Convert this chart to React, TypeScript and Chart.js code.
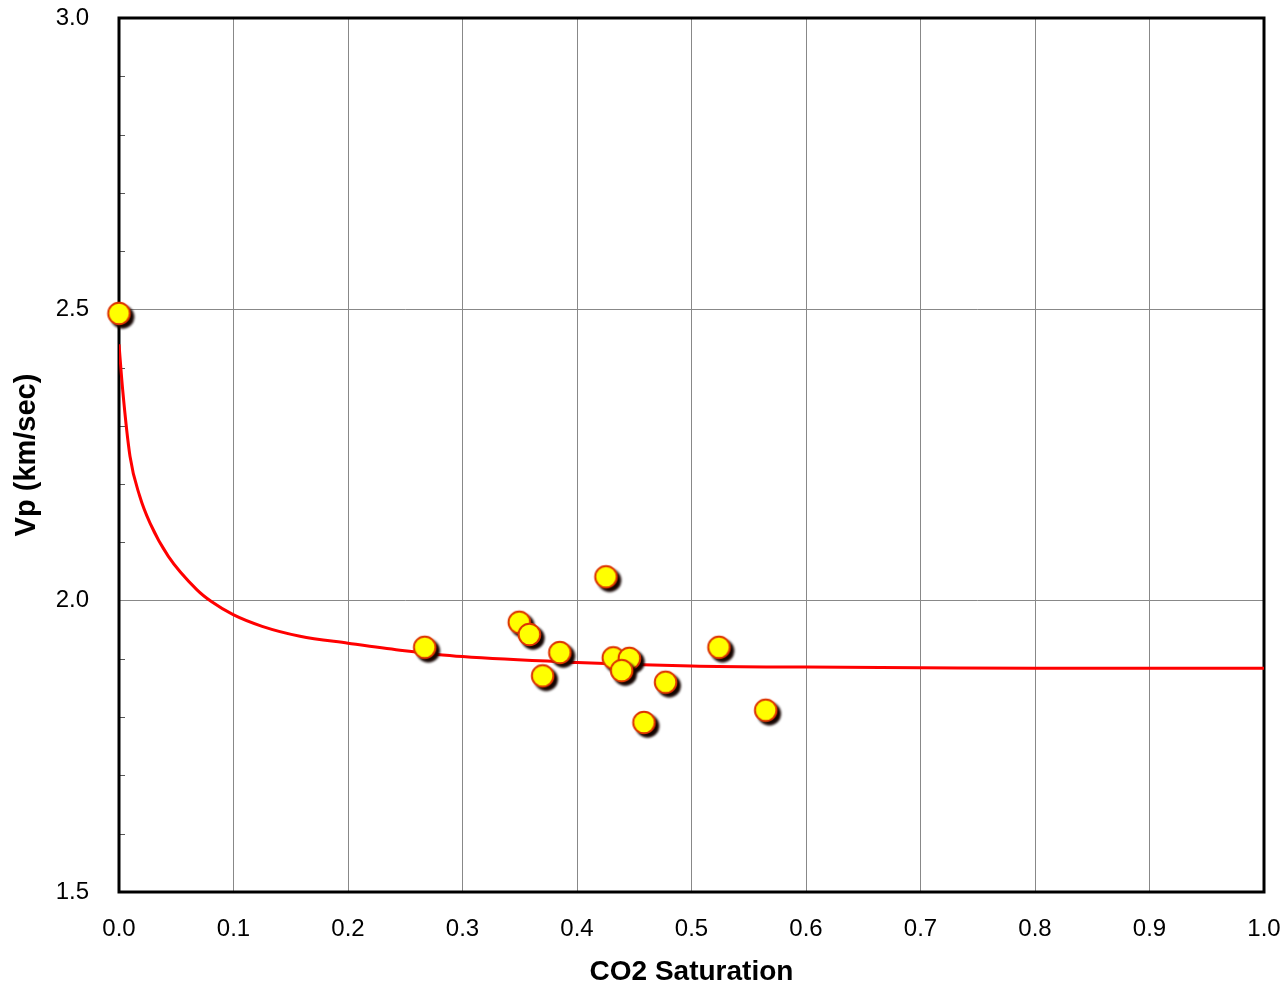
import React, { useEffect, useRef } from "react";
import { Chart, registerables } from "chart.js";

Chart.register(...registerables);

// Measured samples
const SATURATION = [0.0, 0.267, 0.3496, 0.3584, 0.385, 0.37, 0.4253, 0.4317, 0.4457, 0.439, 0.4774, 0.4585, 0.524, 0.5648];
const VP = [2.493, 1.92, 1.963, 1.942, 1.911, 1.871, 2.041, 1.902, 1.901, 1.88, 1.86, 1.791, 1.92, 1.812];

// Model curve
const CURVE_SAT = [0.0, 0.0032, 0.0096, 0.018, 0.0271, 0.0431, 0.0679, 0.081, 0.0997, 0.125, 0.1581, 0.2, 0.2454, 0.3, 0.4, 0.5, 0.6, 0.7, 0.8, 0.9, 1.0];
const CURVE_VP = [2.44, 2.362, 2.248, 2.18, 2.133, 2.076, 2.019, 1.998, 1.976, 1.956, 1.939, 1.927, 1.915, 1.904, 1.894, 1.888, 1.886, 1.885, 1.884, 1.884, 1.884];

const X_MIN = 0, X_MAX = 1.0, X_STEP = 0.1;
const Y_MIN = 1.5, Y_MAX = 3.0, Y_STEP = 0.1, Y_MAJOR = 0.5;

const X_TITLE = "CO2 Saturation";
const Y_TITLE = "Vp (km/sec)";

const FONT = "'Liberation Sans', Arial, sans-serif";

function makeMarker(): HTMLCanvasElement {
  const r = 11.8;
  const off = 3.5;
  const size = Math.ceil((r + off + 4) * 2);
  const c = document.createElement("canvas");
  c.width = size;
  c.height = size;
  const g = c.getContext("2d")!;
  const cx = size / 2, cy = size / 2;
  // shadow
  g.save();
  g.filter = "blur(1px)";
  g.fillStyle = "rgba(20,4,0,1)";
  g.beginPath();
  g.arc(cx + off, cy + off, r, 0, Math.PI * 2);
  g.fill();
  g.restore();
  // body
  g.fillStyle = "#ffff00";
  g.strokeStyle = "#dd3300";
  g.lineWidth = 2;
  g.beginPath();
  g.arc(cx, cy, r - 1, 0, Math.PI * 2);
  g.fill();
  g.stroke();
  return c;
}

export default function App() {
  const ref = useRef<HTMLCanvasElement | null>(null);

  useEffect(() => {
    const canvas = ref.current;
    if (!canvas) return;

    const isMajor = (v: number) => Math.round(v * 10) % Math.round(Y_MAJOR * 10) === 0;
    const marker = makeMarker();

    const framePlugin = {
      id: "frame",
      beforeDatasetsDraw(chart: any) {
        const { ctx, chartArea } = chart;
        const y = chart.scales.y;
        ctx.save();
        ctx.strokeStyle = "#555";
        ctx.lineWidth = 1;
        for (const t of y.ticks) {
          if (isMajor(t.value)) continue;
          const py = Math.round(y.getPixelForValue(t.value)) + 0.5;
          ctx.beginPath();
          ctx.moveTo(chartArea.left, py);
          ctx.lineTo(chartArea.left + 6, py);
          ctx.stroke();
        }
        ctx.strokeStyle = "#000";
        ctx.lineWidth = 3;
        ctx.strokeRect(chartArea.left, chartArea.top, chartArea.right - chartArea.left, chartArea.bottom - chartArea.top);
        ctx.restore();
      },
    };

    const chart = new Chart(canvas, {
      type: "scatter",
      data: {
        datasets: [
          {
            label: "Measured",
            data: SATURATION.map((x, i) => ({ x, y: VP[i] })),
            pointStyle: marker as any,
            pointRadius: 12,
            pointHoverRadius: 12,
            clip: false as any,
            order: 0,
          },
          {
            type: "line" as any,
            label: "Model",
            data: CURVE_SAT.map((x, i) => ({ x, y: CURVE_VP[i] })),
            borderColor: "#ff0000",
            borderWidth: 3,
            pointRadius: 0,
            showLine: true,
            fill: false,
            cubicInterpolationMode: "monotone",
            order: 1,
          } as any,
        ],
      },
      options: {
        responsive: false,
        animation: false,
        events: [],
        layout: { padding: { top: 18, right: 19, left: 0, bottom: 0 } },
        plugins: { legend: { display: false }, tooltip: { enabled: false } },
        scales: {
          x: {
            type: "linear",
            min: X_MIN,
            max: X_MAX,
            afterFit: (s: any) => { s.height = 97; s.paddingLeft = 0; s.paddingRight = 0; },
            border: { display: false },
            grid: { color: "#888", lineWidth: 1, drawTicks: false },
            ticks: {
              stepSize: X_STEP,
              padding: 23,
              color: "#000",
              font: { family: FONT, size: 24 },
              callback: (v: any) => Number(v).toFixed(1),
              maxRotation: 0,
              autoSkip: false,
            },
            title: {
              display: true,
              text: X_TITLE,
              color: "#000",
              font: { family: FONT, size: 28, weight: "bold" },
              padding: { top: 0, bottom: 0 },
            },
          },
          y: {
            type: "linear",
            min: Y_MIN,
            max: Y_MAX,
            afterFit: (s: any) => { s.width = 119; s.paddingTop = 0; s.paddingBottom = 0; },
            border: { display: false },
            grid: {
              color: (c: any) => (c.tick && isMajor(c.tick.value) ? "#888" : "rgba(0,0,0,0)"),
              lineWidth: 1,
              drawTicks: false,
            },
            ticks: {
              stepSize: Y_STEP,
              padding: 30,
              color: "#000",
              font: { family: FONT, size: 24 },
              autoSkip: false,
              callback: (v: any) => (isMajor(Number(v)) ? Number(v).toFixed(1) : ""),
            },
            title: {
              display: true,
              text: Y_TITLE,
              color: "#000",
              font: { family: FONT, size: 29, weight: "bold" },
              padding: { top: 10, bottom: 0 },
            },
          },
        },
      },
      plugins: [framePlugin],
    });

    return () => chart.destroy();
  }, []);

  return (
    <div style={{ position: "absolute", left: 0, top: 0, width: 1283, height: 989, background: "#fff" }}>
      <canvas ref={ref} width={1283} height={989} style={{ display: "block" }} />
    </div>
  );
}
